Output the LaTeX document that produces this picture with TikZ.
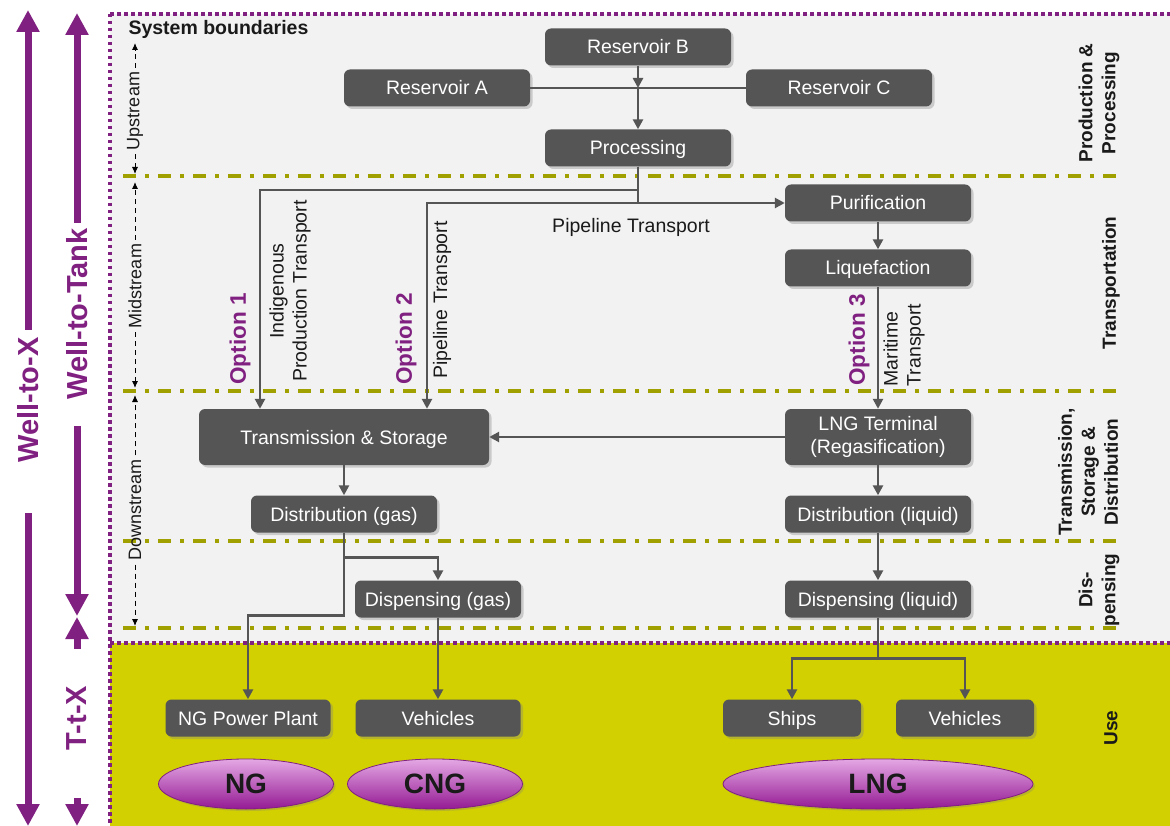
\documentclass[tikz,border=0pt]{standalone}
\usepackage{fontspec}
\setmainfont{Liberation Sans}
\usetikzlibrary{arrows.meta,shapes.geometric,shadows,calc}
\definecolor{bggray}{RGB}{242,242,242}
\definecolor{useyellow}{RGB}{210,208,0}
\definecolor{boxgray}{RGB}{85,85,85}
\definecolor{purp}{RGB}{128,32,128}
\definecolor{olivel}{RGB}{160,160,0}
\definecolor{ellTop}{RGB}{228,168,228}
\definecolor{ellBot}{RGB}{148,26,148}
\definecolor{txt}{RGB}{26,26,26}
\begin{document}
\begin{tikzpicture}[x=1pt,y=-1pt,
  box/.style={fill=boxgray, rounded corners=6pt, text=white, font=\fontsize{19.5}{23}\selectfont, align=center, inner sep=0pt, drop shadow={opacity=0.35,shadow xshift=2.5pt,shadow yshift=-2.5pt}},
  box1/.style={box, text height=16pt, text depth=2pt},
  ell/.style={ellipse, draw=purp, line width=0.8pt, top color=ellTop, bottom color=ellBot, font=\bfseries\fontsize{28}{30}\selectfont, text=txt, inner sep=0pt, drop shadow={opacity=0.3,shadow xshift=2pt,shadow yshift=-2pt}},
  conn/.style={draw=boxgray, line width=2.5pt},
  arr/.style={conn, -{Triangle[length=10pt,width=10pt]}},
  olivedash/.style={draw=olivel, line width=3.5pt, dash pattern=on 13pt off 9pt on 4pt off 9pt},
  bound/.style={draw=purp, line width=3.5pt, dash pattern=on 3.5pt off 3.5pt},
  lbl/.style={text=txt, font=\fontsize{19.5}{23}\selectfont, align=center},
  sidelbl/.style={text=txt, font=\bfseries\fontsize{19}{23}\selectfont, align=center, rotate=90},
  optlbl/.style={text=purp, font=\bfseries\fontsize{22.5}{26}\selectfont, rotate=90},
  streamlbl/.style={text=txt, font=\fontsize{18}{21}\selectfont, rotate=90, inner sep=4pt},
  sarrow/.style={draw=black, line width=0.9pt, dash pattern=on 5pt off 4pt, -{Latex[length=7pt,width=6pt]}},
  bigarrow/.style={draw=purp, line width=7pt, -{Triangle[length=22pt,width=22pt]}},
  biglbl/.style={text=purp, font=\bfseries\fontsize{29}{32}\selectfont, rotate=90}
]
\useasboundingbox (0,0) rectangle (1170,826);
% backgrounds
\fill[bggray] (110,14) rectangle (1170,643);
\fill[useyellow] (110,643) rectangle (1170,826);
% phase separators
\foreach \yy in {176,391,541,628} \draw[olivedash] (123,\yy) -- (1122,\yy);
% system boundary
\draw[bound] (110,14) -- (1170,14);
\draw[bound] (110,14) -- (110,826);
\draw[bound] (110,643) -- (1170,643);
\node[anchor=west, text=txt, font=\bfseries\fontsize{19.5}{22}\selectfont] (sysb) at (125,29) {System boundaries};

% left big arrows
\node[biglbl] (wtx) at (28,400) {Well-to-X};
\coordinate (wtxTop) at (28,10);
\coordinate (wtxA) at (28,330);
\coordinate (wtxB) at (28,513);
\coordinate (wtxBot) at (28,826);
\draw[bigarrow] (wtxA) -- (wtxTop);
\draw[bigarrow] (wtxB) -- (wtxBot);

\node[biglbl] (wtt) at (77,314) {Well-to-Tank};
\coordinate (wttTop) at (77,13);
\coordinate (wttA) at (77,223);
\coordinate (wttB) at (77,426);
\coordinate (wttBot) at (77,616);
\draw[bigarrow] (wttA) -- (wttTop);
\draw[bigarrow] (wttB) -- (wttBot);

\node[biglbl] (ttx) at (77,718) {T-t-X};
\coordinate (ttxTop) at (77,617);
\coordinate (ttxA) at (77,649);
\coordinate (ttxB) at (77,798);
\coordinate (ttxBot) at (77,826);
\draw[bigarrow] (ttxA) -- (ttxTop);
\draw[bigarrow] (ttxB) -- (ttxBot);

% stream labels
\node[streamlbl] (ups) at (135,111) {Upstream};
\coordinate (upsT) at (135,43);
\coordinate (upsB) at (135,174);
\draw[sarrow] (ups.east) -- (upsT);
\draw[sarrow] (ups.west) -- (upsB);
\node[streamlbl] (mids) at (135,286) {Midstream};
\coordinate (midsT) at (135,182);
\coordinate (midsB) at (135,388);
\draw[sarrow] (mids.east) -- (midsT);
\draw[sarrow] (mids.west) -- (midsB);
\node[streamlbl] (downs) at (135,510) {Downstream};
\coordinate (downsT) at (135,395);
\coordinate (downsB) at (135,626);
\draw[sarrow] (downs.east) -- (downsT);
\draw[sarrow] (downs.west) -- (downsB);

% right side labels
\node[sidelbl] (lp) at (1099,103) {Production \&\\Processing};
\node[sidelbl] (lt) at (1111,283) {Transportation};
\node[sidelbl] (lts) at (1088,472) {Transmission,\\Storage \&\\Distribution};
\node[sidelbl] (ld) at (1099,590) {Dis-\\pensing};
\node[sidelbl] (lu) at (1111,728) {Use};

% boxes
\node[box1, minimum width=186pt, minimum height=37pt] (resB) at (638,47) {Reservoir B};
\node[box1, minimum width=186pt, minimum height=37pt] (resA) at (437,88) {Reservoir A};
\node[box1, minimum width=186pt, minimum height=37pt] (resC) at (839,88) {Reservoir C};
\node[box1, minimum width=186pt, minimum height=37pt] (proc) at (638,148) {Processing};
\node[box1, minimum width=186pt, minimum height=37pt] (pur) at (878,203) {Purification};
\node[box1, minimum width=186pt, minimum height=37pt] (liq) at (878,268) {Liquefaction};
\node[box1, minimum width=290pt, minimum height=56pt] (trans) at (344,437) {Transmission \& Storage};
\node[box, minimum width=186pt, minimum height=56pt] (lngT) at (878,437) {LNG Terminal\\(Regasification)};
\node[box1, minimum width=186pt, minimum height=37pt] (distg) at (344,514) {Distribution (gas)};
\node[box1, minimum width=186pt, minimum height=37pt] (distl) at (878,514) {Distribution (liquid)};
\node[box1, minimum width=166pt, minimum height=37pt] (dispg) at (438,599) {Dispensing (gas)};
\node[box1, minimum width=186pt, minimum height=37pt] (displ) at (878,599) {Dispensing (liquid)};
\node[box1, minimum width=165pt, minimum height=37pt] (ngpp) at (248,718) {NG Power Plant};
\node[box1, minimum width=165pt, minimum height=37pt] (vehc) at (438,718) {Vehicles};
\node[box1, minimum width=138pt, minimum height=37pt] (ships) at (792,718) {Ships};
\node[box1, minimum width=138pt, minimum height=37pt] (vehl) at (965,718) {Vehicles};

% ellipses
\node[ell, minimum width=175pt, minimum height=50pt] (ng) at (246,784) {NG};
\node[ell, minimum width=175pt, minimum height=50pt] (cng) at (435,784) {CNG};
\node[ell, minimum width=310pt, minimum height=50pt] (lng) at (878,784) {LNG};

% connectors
\draw[conn] (resA.east) -- (resC.west);
\coordinate (jB) at (resB.south |- resA.east);
\draw[arr] (resB.south) -- (jB);
\draw[arr] (jB) -- (proc.north);
\draw[arr] (proc.south) |- (pur.west);
\coordinate (o1) at (260,190);
\coordinate (o2) at (427,203);
\draw[arr] (proc.south) |- (o1) -- (o1 |- trans.north);
\draw[arr] (proc.south) |- (o2) -- (o2 |- trans.north);
\draw[arr] (pur.south) -- (liq.north);
\draw[arr] (liq.south) -- (lngT.north);
\draw[arr] (lngT.west) -- (trans.east);
\draw[arr] (trans.south) -- (distg.north);
\draw[arr] (lngT.south) -- (distl.north);
\draw[arr] (distg.south) -- ++(0,25) -| (dispg.north);
\draw[arr] (distg.south) -- ++(0,83) -| (ngpp.north);
\draw[arr] (dispg.south) -- (vehc.north);
\draw[arr] (distl.south) -- (displ.north);
\draw[arr] (displ.south) -- ++(0,41) -| (ships.north);
\draw[arr] (displ.south) -- ++(0,41) -| (vehl.north);

% transport labels
\node[lbl] (pipeT) at (631,227) {Pipeline Transport};
\node[optlbl] (opt1) at (240,339) {Option 1};
\node[lbl, rotate=90] (indig) at (290,291) {Indigenous\\Production Transport};
\node[optlbl] (opt2) at (406,339) {Option 2};
\node[lbl, rotate=90] (pipeT2) at (442,300) {Pipeline Transport};
\node[optlbl] (opt3) at (859,340) {Option 3};
\node[lbl, rotate=90, align=left] (mari) at (904,345) {Maritime\\Transport};
\end{tikzpicture}
\end{document}
